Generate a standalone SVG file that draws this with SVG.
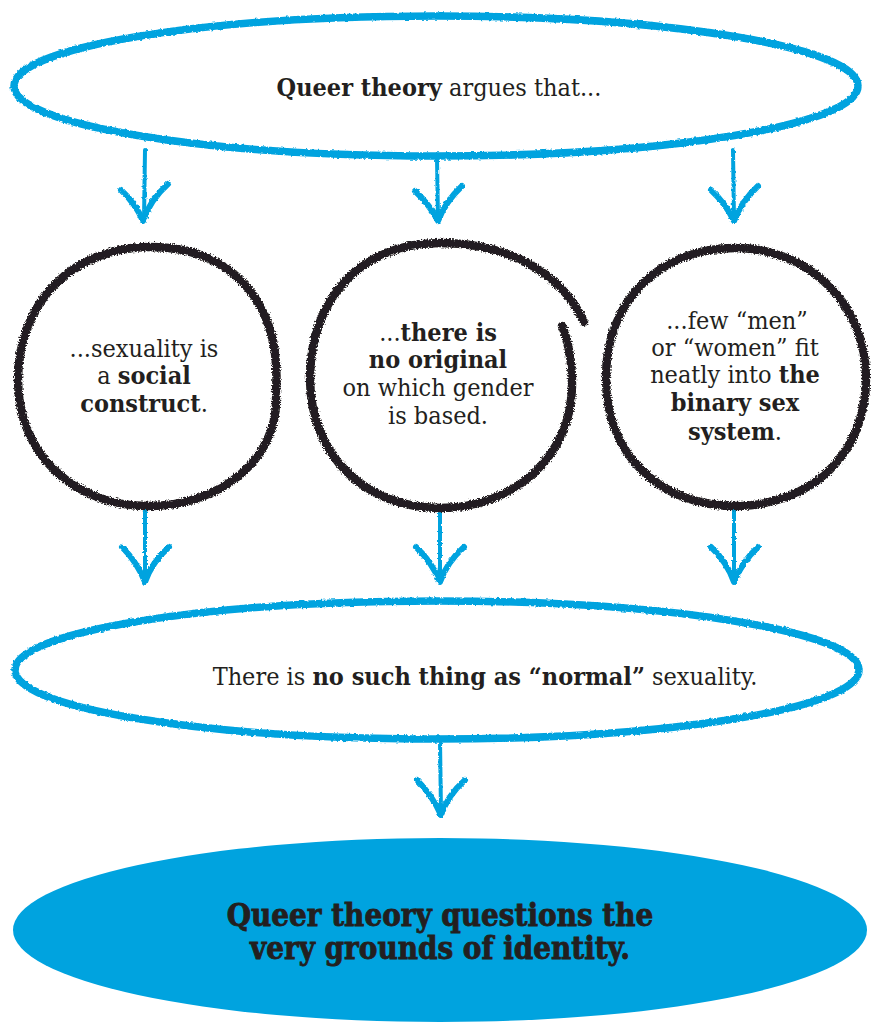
<svg xmlns="http://www.w3.org/2000/svg" width="874" height="1022" viewBox="0 0 874 1022">
<defs>
<filter id="rough" x="-5%" y="-5%" width="110%" height="110%">
<feTurbulence type="fractalNoise" baseFrequency="0.35" numOctaves="2" seed="3" result="n"/>
<feDisplacementMap in="SourceGraphic" in2="n" scale="3" xChannelSelector="R" yChannelSelector="G"/>
</filter>
<filter id="rough2" x="-5%" y="-5%" width="110%" height="110%">
<feTurbulence type="fractalNoise" baseFrequency="0.7" numOctaves="2" seed="7" result="n"/>
<feDisplacementMap in="SourceGraphic" in2="n" scale="5" xChannelSelector="R" yChannelSelector="G"/>
</filter>
</defs>
<style>
.blue{fill:none;stroke:#00a3df;stroke-width:7.5;stroke-linecap:round;stroke-linejoin:round}
.stem{fill:none;stroke:#00a3df;stroke-width:4;stroke-linecap:round}
.wing{fill:none;stroke:#00a3df;stroke-width:6;stroke-linecap:round;stroke-linejoin:round}
.ring{fill:none;stroke:#231f20;stroke-width:8.5;stroke-linecap:round}
.t{font-family:"DejaVu Serif","Liberation Serif",serif;font-stretch:condensed;font-size:25px;fill:#231f20;font-weight:300;text-anchor:middle}
.b{font-weight:bold}
.big{font-family:"DejaVu Serif","Liberation Serif",serif;font-stretch:condensed;font-size:31px;font-weight:900;fill:#231f20;stroke:#231f20;stroke-width:0.8;text-anchor:middle}
</style>
<rect width="874" height="1022" fill="#ffffff"/>

<g id="connectors" filter="url(#rough)">
<path class="stem" d="M145 150 L144 220"/>
<path class="wing" d="M121 190 Q136 204 143 221 Q150 200 168 184"/>
<path class="stem" d="M437 158 L438 220"/>
<path class="wing" d="M415 191 Q430 205 438 221 Q445 202 462 186"/>
<path class="stem" d="M733 150 L734 220"/>
<path class="wing" d="M711 190 Q726 204 734 221 Q741 202 758 186"/>

<path class="stem" d="M145 508 L145 580"/>
<path class="wing" d="M122 547 Q137 562 145 582 Q152 562 169 547"/>
<path class="stem" d="M440 508 L440 580"/>
<path class="wing" d="M416 547 Q432 562 440 582 Q447 562 464 547"/>
<path class="stem" d="M734 508 L734 580"/>
<path class="wing" d="M711 547 Q727 562 734 582 Q742 562 758 547"/>

<path class="stem" d="M440 740 L441 813"/>
<path class="wing" d="M417 780 Q432 795 441 815 Q448 795 465 780"/>
</g>

<g id="node-top">
<ellipse class="blue" cx="436" cy="86" rx="422" ry="70" filter="url(#rough)"/>
<text class="t" x="439" y="96"><tspan class="b">Queer theory</tspan> argues that...</text>
</g>

<g id="node-left">
<path class="ring" filter="url(#rough2)" d="M276 392 C282 300 230 247 150 247 C75 247 18 300 18 380 C18 455 75 506 148 506 C225 506 278 455 276 398"/>
<text class="t" x="144" y="357">...sexuality is</text>
<text class="t" x="144" y="384">a <tspan class="b">social</tspan></text>
<text class="t" x="144" y="412"><tspan class="b">construct</tspan>.</text>
</g>

<g id="node-middle">
<path class="ring" filter="url(#rough2)" d="M584 322 C560 270 505 243 440 243 C360 243 310 300 310 378 C310 455 365 508 440 508 C515 508 572 455 572 385 C572 360 568 340 562 326"/>
<text class="t" x="438" y="341">...<tspan class="b">there is</tspan></text>
<text class="t" x="438" y="368"><tspan class="b">no original</tspan></text>
<text class="t" x="438" y="396">on which gender</text>
<text class="t" x="438" y="424">is based.</text>
</g>

<g id="node-right">
<path class="ring" filter="url(#rough2)" d="M735 248 C810 248 866 305 866 378 C866 455 810 506 735 506 C660 506 606 455 606 378 C606 300 660 248 735 248 Z"/>
<text class="t" x="737" y="329">...few “men”</text>
<text class="t" x="735" y="356">or “women” fit</text>
<text class="t" x="735" y="383">neatly into <tspan class="b">the</tspan></text>
<text class="t" x="735" y="411"><tspan class="b">binary sex</tspan></text>
<text class="t" x="735" y="440"><tspan class="b">system</tspan>.</text>
</g>

<g id="node-normal">
<ellipse class="blue" cx="437" cy="670" rx="422" ry="69" filter="url(#rough)"/>
<text class="t" x="485" y="685">There is <tspan class="b">no such thing as “normal”</tspan> sexuality.</text>
</g>

<g id="node-bottom">
<ellipse cx="440" cy="930" rx="427" ry="92" fill="#00a3df"/>
<text class="big" x="440" y="926">Queer theory questions the</text>
<text class="big" x="440" y="959">very grounds of identity.</text>
</g>
</svg>
